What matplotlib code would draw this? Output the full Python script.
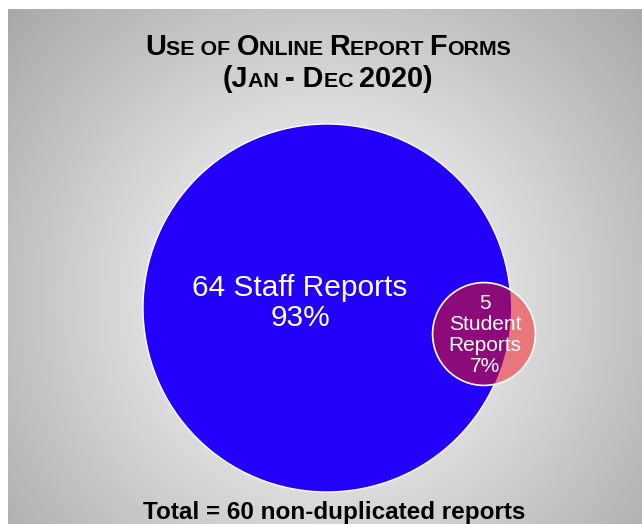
import numpy as np
import matplotlib
matplotlib.use('Agg')
import matplotlib.pyplot as plt
from matplotlib.patches import Circle
from matplotlib.offsetbox import TextArea, HPacker, AnnotationBbox

# chart data
groups = ['Staff', 'Student']
counts = [64, 5]
percents = [93, 7]
total_unique = 60
title_lines = ['Use of Online Report Forms', '(Jan - Dec 2020)']

plt.rcParams['font.family'] = ['Liberation Sans', 'DejaVu Sans']

W, H = 642, 524
fig = plt.figure(figsize=(W / 100, H / 100), dpi=100)
ax = fig.add_axes([0, 0, 1, 1])
ax.set_xlim(0, W)
ax.set_ylim(H, 0)
ax.axis('off')

# radial grey background, white margin on top/left
yy, xx = np.mgrid[9:H, 8:W]
d = np.hypot(xx - 327, yy - 300)
v = np.clip(261 - 0.2155 * d, 0, 255) / 255.0
ax.imshow(np.dstack([v, v, v]), extent=(8, W, H, 9), interpolation='bilinear', zorder=0)

# circle sizes from the counts (area ~ count)
scale = 23.0
radii = [scale * np.sqrt(c) for c in counts]
centers = [(327, 308), (484, 334)]

big = Circle(centers[0], radii[0], facecolor='#2200FB', edgecolor='white', lw=1.0, zorder=2)
ax.add_patch(big)
small = Circle(centers[1], radii[1], facecolor='#E9767A', edgecolor='none', zorder=3)
ax.add_patch(small)
overlap = Circle(centers[1], radii[1], facecolor='#8C0A7A', edgecolor='none', zorder=4)
ax.add_patch(overlap)
overlap.set_clip_path(big)
ring = Circle(centers[1], radii[1], facecolor='none', edgecolor='white', lw=1.2, zorder=5)
ax.add_patch(ring)

ax.text(300, 303, '{} {} Reports\n{}%'.format(counts[0], groups[0], percents[0]),
        color='white', fontsize=21.5, ha='center', va='center', linespacing=1.12, zorder=6)
ax.text(centers[1][0] + 1, 335, '{}\n{}\nReports\n{}%'.format(counts[1], groups[1], percents[1]),
        color='white', fontsize=15, ha='center', va='center', linespacing=1.15, zorder=6)


def small_caps(text, big_size, small_size):
    runs = []
    for ch in text:
        size = small_size if ch.islower() else big_size
        if ch == ' ' and runs:
            size = runs[-1][1]
        if runs and runs[-1][1] == size:
            runs[-1][0] += ch.upper()
        else:
            runs.append([ch.upper(), size])
    parts = [TextArea(s, textprops=dict(fontsize=sz, fontweight='bold', color='black'))
             for s, sz in runs]
    return HPacker(children=parts, align='baseline', pad=0, sep=0)


for line, y in zip(title_lines, [47, 79]):
    ab = AnnotationBbox(small_caps(line, 20.8, 15.4), (328, y), xycoords='data',
                        box_alignment=(0.5, 0.5), frameon=False, pad=0)
    ax.add_artist(ab)

ax.text(334, 519, 'Total = {} non-duplicated reports'.format(total_unique),
        fontsize=17.5, fontweight='bold', ha='center', va='baseline', zorder=6)

fig.savefig('out.png', dpi=100)
